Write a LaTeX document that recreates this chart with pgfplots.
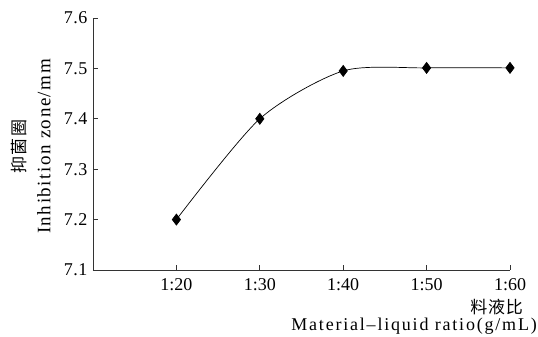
\documentclass[border=0pt]{standalone}
\usepackage{pgfplots}
\pgfplotsset{compat=1.18}
\usepackage{fontspec}
\setmainfont{Liberation Serif}
\newfontfamily\cjk{Noto Sans CJK SC}
\begin{document}
\begin{tikzpicture}
\path[use as bounding box] (-93pt,-67pt) rectangle (445pt,270pt);
\begin{axis}[
  scale only axis,
  width=417pt, height=252pt,
  xmin=1, xmax=6,
  ymin=7.1, ymax=7.6,
  axis x line=bottom, axis y line=left,
  axis line style={black!80, line width=0.8pt, -},
  tick style={black!80, line width=0.8pt},
  tick align=inside,
  major tick length=5pt,
  xtick={2,3,4,5,6},
  xticklabels={1:20,1:30,1:40,1:50,1:60},
  ytick={7.1,7.2,7.3,7.4,7.5,7.6},
  yticklabel style={/pgf/number format/fixed, /pgf/number format/fixed zerofill, /pgf/number format/precision=1, /pgf/number format/assume math mode=true, xshift=-2pt, font=\fontsize{18}{20}\selectfont\addfontfeature{LetterSpace=3}},
  xticklabel style={yshift=-5pt, font=\fontsize{18}{20}\selectfont},
  clip=false,
]
\addplot[black, line width=0.7pt, smooth, tension=0.45, mark=diamond*, mark size=5.5pt, mark options={solid, fill=black}]
  coordinates {(2,7.2) (3,7.4) (4,7.495) (5,7.501) (6,7.501)};
\node[anchor=east, inner sep=0pt, font=\fontsize{17}{19}\selectfont\cjk\addfontfeature{LetterSpace=4}] at ([xshift=13pt, yshift=-37pt]rel axis cs:1,0) {料液比};
\node[anchor=east, inner sep=0pt, font=\fontsize{18}{20}\selectfont\addfontfeature{LetterSpace=10}] at ([xshift=27pt, yshift=-56pt]rel axis cs:1,0) {Material\textendash liquid ratio(g/mL)};
\node[rotate=90, inner sep=0pt, font=\fontsize{19}{21}\selectfont\addfontfeature{LetterSpace=8}] at ([xshift=-49pt]rel axis cs:0,0.49) {Inhibition zone/mm};
\node[rotate=90, inner sep=0pt, font=\fontsize{17}{19}\selectfont\cjk\addfontfeature{LetterSpace=8}] at ([xshift=-74pt]rel axis cs:0,0.49) {抑菌圈};
\end{axis}
\end{tikzpicture}
\end{document}
